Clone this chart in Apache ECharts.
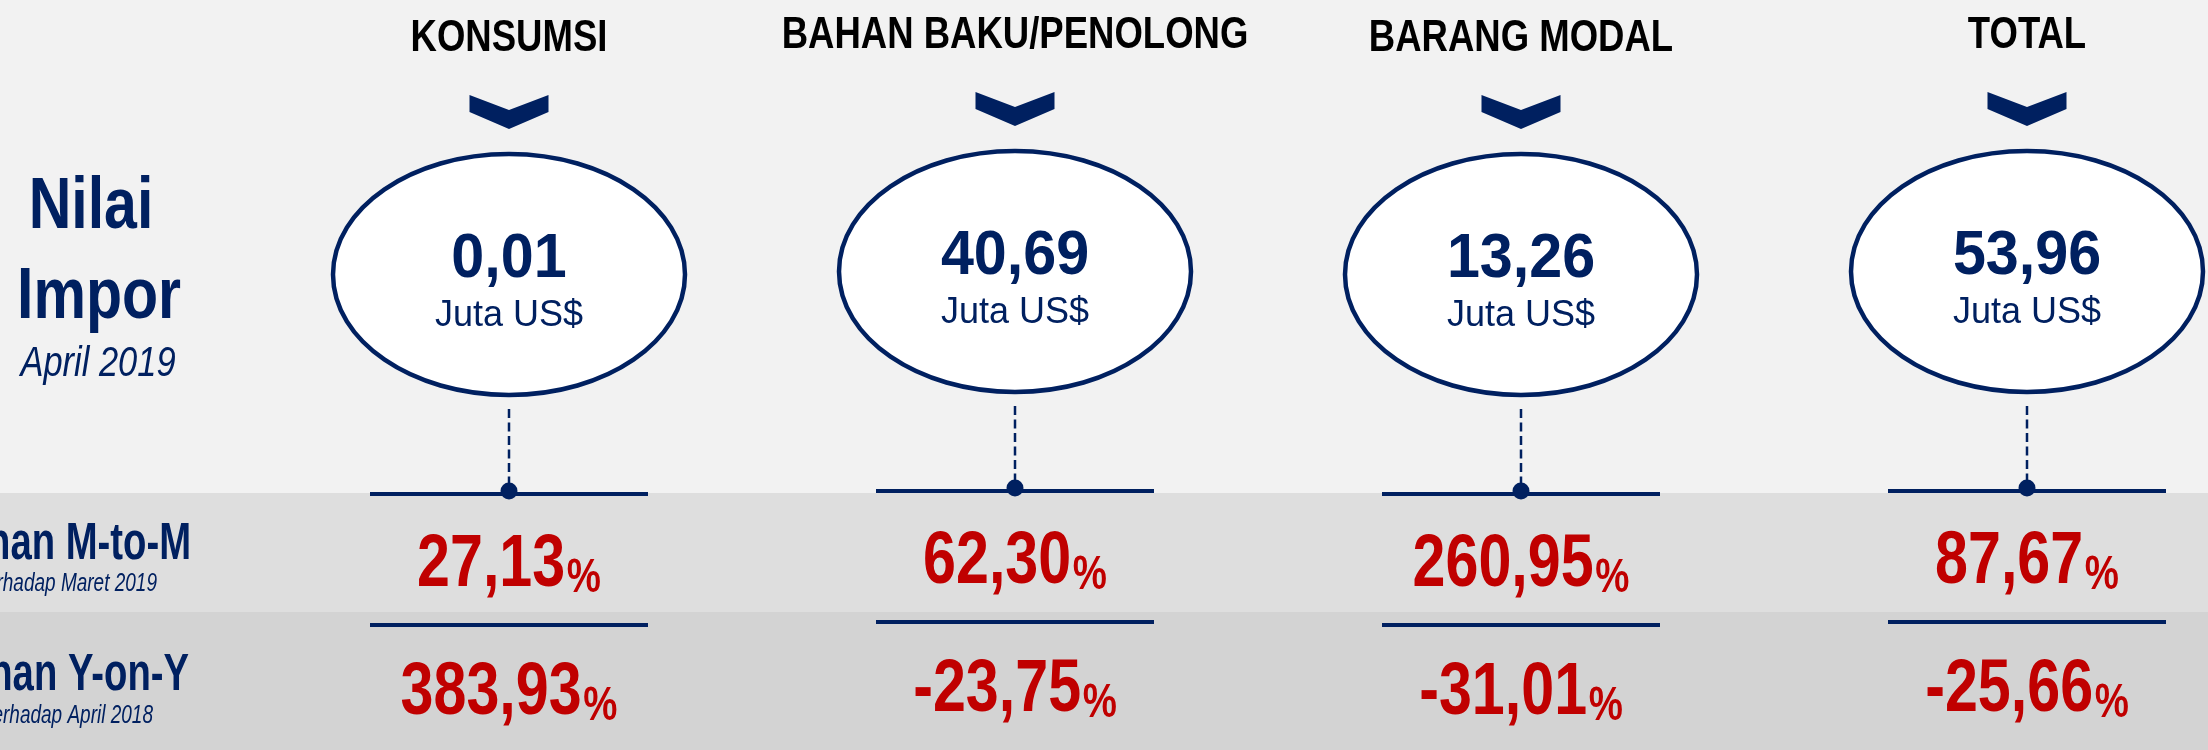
<!DOCTYPE html>
<html>
<head>
<meta charset="utf-8">
<title>Nilai Impor April 2019</title>
<script src="https://cdn.jsdelivr.net/npm/echarts@6/dist/echarts.min.js"></script>
<style>
html, body { margin: 0; padding: 0; background: #f2f2f2; }
#main { width: 2208px; height: 750px; }
</style>
</head>
<body>
<div id="main"></div>
<script>
// data
const categories = ['KONSUMSI', 'BAHAN BAKU/PENOLONG', 'BARANG MODAL', 'TOTAL']
const nilaiImpor = [0.01, 40.69, 13.26, 53.96] // juta US$
const perubahanMtoM = [27.13, 62.30, 260.95, 87.67] // % terhadap Maret 2019
const perubahanYonY = [383.93, -23.75, -31.01, -25.66] // % terhadap April 2018

const NAVY = '#002060'
const RED = '#c00000'
const SANS = "'Liberation Sans', Arial, sans-serif"
const TY = 0.06 // koreksi: y = tengah huruf kapital + TY * ukuran font

const fmt = v => v.toFixed(2).replace('.', ',')

// kolom 2 dan 4 di slide aslinya sedikit lebih tinggi
const colShift = [0, -3, 0, -3]

// teks sempit (meniru Arial Narrow): posisi di elemen, lalu diperkecil horizontal
function narrowText(x, capY, text, style, size, fill, align, sx) {
  return {
    type: 'text',
    x: x,
    y: capY + TY * size,
    scaleX: sx || 0.82,
    style: { text: text, x: 0, y: 0, font: style + ' ' + size + 'px ' + SANS, fill: fill, align: align || 'center', verticalAlign: 'middle' }
  }
}

function pctText(x, capY, v) {
  return {
    type: 'text',
    x: x,
    y: capY + TY * 74 + 2,
    scaleX: 0.8,
    style: {
      text: '{n|' + fmt(v) + '}{p|%}',
      x: 0,
      y: 0,
      rich: {
        n: { fontSize: 74, fontWeight: 'bold', fontFamily: SANS, fill: RED, lineHeight: 74, verticalAlign: 'bottom' },
        p: { fontSize: 48, fontWeight: 'bold', fontFamily: SANS, fill: RED, lineHeight: 56, verticalAlign: 'bottom', padding: [0, 0, 0, 2] }
      },
      align: 'center',
      verticalAlign: 'middle'
    }
  }
}

function renderItem(params, api) {
  const i = api.value(0)
  const dy = colShift[i]
  const cx = api.coord([i, 0])[0]
  const y = v => api.coord([i, v + dy])[1]
  const half = 139
  const hline = yy => ({
    type: 'line',
    shape: { x1: cx - half, y1: y(yy), x2: cx + half, y2: y(yy) },
    style: { stroke: NAVY, lineWidth: 4 }
  })
  return {
    type: 'group',
    children: [
      narrowText(cx, y(36), categories[i], 'bold', 44, '#000', 'center', 0.83),
      {
        type: 'polygon',
        shape: { points: [[cx - 39.5, y(95)], [cx, y(110)], [cx + 39.5, y(95)], [cx + 39.5, y(112)], [cx, y(129)], [cx - 39.5, y(112)]] },
        style: { fill: NAVY }
      },
      {
        type: 'ellipse',
        shape: { cx: cx, cy: y(274.5), rx: 176, ry: 120.5 },
        style: { fill: '#fff', stroke: NAVY, lineWidth: 4.5 }
      },
      narrowText(cx, y(255.5), fmt(api.value(1)), 'bold', 63, NAVY, 'center', 0.94),
      narrowText(cx, y(314), 'Juta US$', 'normal', 36, NAVY, 'center', 1),
      {
        type: 'line',
        shape: { x1: cx, y1: y(409), x2: cx, y2: y(484) },
        style: { stroke: NAVY, lineWidth: 2.5, lineDash: [9, 4.5] }
      },
      hline(494),
      {
        type: 'circle',
        shape: { cx: cx, cy: y(491), r: 8.5 },
        style: { fill: NAVY }
      },
      pctText(cx, y(559.5), api.value(2)),
      hline(625),
      pctText(cx, y(687.5), api.value(3)),
      hline(756)
    ]
  }
}

const chart = echarts.init(document.getElementById('main'))

const option = {
  backgroundColor: '#f2f2f2',
  animation: false,
  grid: { left: 509, right: 181, top: 0, bottom: 0 },
  xAxis: { type: 'category', data: categories, boundaryGap: false, show: false },
  yAxis: { type: 'value', min: 0, max: 750, inverse: true, show: false },
  graphic: [
    // pita latar baris perubahan
    { type: 'rect', z: -10, shape: { x: 0, y: 493, width: 2208, height: 119 }, style: { fill: '#dedede' } },
    { type: 'rect', z: -10, shape: { x: 0, y: 612, width: 2208, height: 138 }, style: { fill: '#d3d3d3' } },
    // label kiri
    narrowText(91, 204, 'Nilai', 'bold', 72, NAVY),
    narrowText(99, 293.5, 'Impor', 'bold', 72, NAVY),
    narrowText(98, 362, 'April 2019', 'italic', 42, NAVY),
    narrowText(191, 541.5, 'Perubahan M-to-M', 'bold', 51, NAVY, 'right', 0.75),
    narrowText(157, 582.5, 'Terhadap Maret 2019', 'italic', 25, NAVY, 'right', 0.76),
    narrowText(189, 673, 'Perubahan Y-on-Y', 'bold', 51, NAVY, 'right', 0.75),
    narrowText(153, 714.5, 'Terhadap April 2018', 'italic', 25, NAVY, 'right', 0.76)
  ],
  series: [
    {
      type: 'custom',
      renderItem: renderItem,
      data: categories.map((c, i) => [i, nilaiImpor[i], perubahanMtoM[i], perubahanYonY[i]])
    }
  ]
}

chart.setOption(option)
</script>
</body>
</html>
